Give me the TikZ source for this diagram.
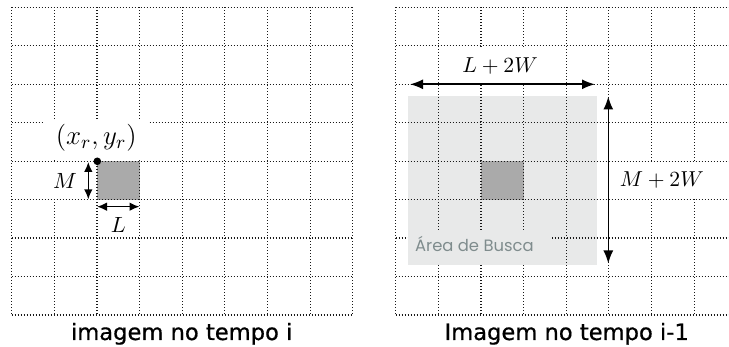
\RequirePackage{fix-cm}
\documentclass[tikz,border=0pt]{standalone}
\usepackage{fontspec}
\newfontfamily\capfont[FakeBold=0.6]{DejaVu Sans}
\newfontfamily\areafont{Poppins}
\usetikzlibrary{arrows.meta}
\definecolor{areagray}{RGB}{232,233,233}
\definecolor{cellgray}{RGB}{170,170,170}
\definecolor{areatext}{RGB}{127,140,141}
\begin{document}
\begin{tikzpicture}[x=0.5pt,y=-0.5pt,
  gridline/.style={line width=0.6pt, black!90, dash pattern=on 0.5pt off 1pt},
  dimarrow/.style={line width=0.8pt, {Latex[length=6.5pt,width=5pt]}-{Latex[length=6.5pt,width=5pt]}},
  smallarrow/.style={line width=0.75pt, {Latex[length=5pt,width=4.3pt]}-{Latex[length=5pt,width=4.3pt]}},
  mathbig/.style={inner sep=0pt, font=\fontsize{13.5}{16}\selectfont},
  mathmid/.style={inner sep=0pt, font=\fontsize{10.8}{13}\selectfont},
  mathsmall/.style={inner sep=0pt, font=\fontsize{11}{13}\selectfont},
  caption/.style={anchor=base, inner sep=0pt, font=\capfont\fontsize{11.3}{13}\selectfont}]
\clip (0,0) rectangle (729,347);
\fill[white] (0,0) rectangle (729,347);
% search area and cells
\fill[areagray] (408.3,96) rectangle (596.7,265);
\fill[cellgray] (97,161.1) rectangle (139.6,199.6);
\fill[cellgray] (481,161.1) rectangle (523.6,199.6);
% grids
\foreach \k in {0,...,8} {
  \draw[gridline] ({11.7+42.63*\k},7.3) -- ({11.7+42.63*\k},315);
  \draw[gridline] (11.7,{7.3+38.46*\k}) -- (352.7,{7.3+38.46*\k});
  \draw[gridline] ({395.7+42.63*\k},7.3) -- ({395.7+42.63*\k},315);
  \draw[gridline] (395.7,{7.3+38.46*\k}) -- (740,{7.3+38.46*\k});
}
% label backgrounds
\fill[white] (43,119) rectangle (148,160);
\fill[white] (47,163) rectangle (81,198);
\fill[white] (444,48) rectangle (560,83);
\fill[white] (614,163) rectangle (712,198);
\fill[areagray] (408.3,231) rectangle (552,265);
% left picture
\node[circle, fill=black, inner sep=0pt, minimum size=3.8pt] (pt) at (97.3,161.3) {};
\node[mathbig] (xrlab) at (96.3,137.3) {$(x_r,y_r)$};
\coordinate (Mt) at (88.3,162);
\coordinate (Mb) at (88.3,199.3);
\draw[smallarrow] (Mt) -- (Mb);
\coordinate (Ll) at (97,206.7);
\coordinate (Lr) at (139.5,206.7);
\draw[smallarrow] (Ll) -- (Lr);
\node[mathsmall] (Mlab) at (65,181) {$M$};
\node[mathsmall] (Llab) at (118.3,225) {$L$};
% right picture
\coordinate (LWl) at (410,84.3);
\coordinate (LWr) at (595,84.3);
\draw[dimarrow] (LWl) -- (LWr);
\coordinate (MWt) at (608.3,96.5);
\coordinate (MWb) at (608.3,263.5);
\draw[dimarrow] (MWt) -- (MWb);
\node[mathmid] (LWlab) at (500,66) {$L+2W$};
\node[mathmid] (MWlab) at (661.7,180) {$M+2W$};
\node[anchor=base west, inner sep=0pt, text=areatext, font=\areafont\fontsize{8.2}{10}\selectfont] (area) at (414.7,252) {Área de Busca};
% captions
\node[caption] (cap1) at (181.7,340) {imagem no tempo i};
\node[caption] (cap2) at (566.7,340) {Imagem no tempo i-1};
\end{tikzpicture}
\end{document}
